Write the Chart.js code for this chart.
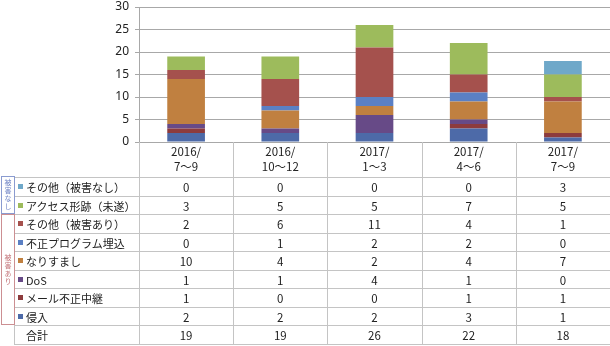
<!DOCTYPE html>
<html>
<head>
<meta charset="utf-8">
<script src="https://cdn.jsdelivr.net/npm/chart.js@4/dist/chart.umd.min.js"></script>
<style>
  body { margin: 0; background: #fff; }
  #wrap { position: relative; width: 610px; height: 346px; font-family: 'Noto Sans CJK JP', 'Noto Sans', sans-serif; color: #222; }
  #chart { position: absolute; left: 0; top: 0; }
  .ln { position: absolute; background: #c4c4c4; }
  .txt { position: absolute; font-size: 11.5px; line-height: 18px; white-space: nowrap; }
  .lbl { font-size: 11px; }
  .num { text-align: center; }
  .mark { position: absolute; width: 5px; height: 5px; }
  .grp { position: absolute; box-sizing: border-box; border: 1px solid; display: flex; align-items: center; justify-content: center; }
  .grp span { writing-mode: vertical-rl; font-size: 7px; letter-spacing: 1px; }
</style>
</head>
<body>
<div id="wrap">
  <canvas id="chart" width="610" height="346"></canvas>
  <div id="tbl"></div>
</div>
<script>
// Periods (two-line column headers)
const periods = [['2016/', '7～9'], ['2016/', '10～12'], ['2017/', '1～3'], ['2017/', '4～6'], ['2017/', '7～9']];

// Series values (incidents per quarter)
const intrusion = [2, 2, 2, 3, 1];       // 侵入
const mailRelay = [1, 0, 0, 1, 1];       // メール不正中継
const dos = [1, 1, 4, 1, 0];             // DoS
const spoofing = [10, 4, 2, 4, 7];       // なりすまし
const malware = [0, 1, 2, 2, 0];         // 不正プログラム埋込
const otherDamage = [2, 6, 11, 4, 1];    // その他（被害あり）
const accessTrace = [3, 5, 5, 7, 5];     // アクセス形跡（未遂）
const otherNoDamage = [0, 0, 0, 0, 3];   // その他（被害なし）
const totals = [19, 19, 26, 22, 18];     // 合計

const yTicks = [0, 5, 10, 15, 20, 25, 30];

// bottom of the stack first
const series = [
    { label: '侵入', data: intrusion, color: '#4d6aa8' },
    { label: 'メール不正中継', data: mailRelay, color: '#8d3b3d' },
    { label: 'DoS', data: dos, color: '#674a87' },
    { label: 'なりすまし', data: spoofing, color: '#c08040' },
    { label: '不正プログラム埋込', data: malware, color: '#5b80c4' },
    { label: 'その他（被害あり）', data: otherDamage, color: '#a5514d' },
    { label: 'アクセス形跡（未遂）', data: accessTrace, color: '#9dbb5c' },
    { label: 'その他（被害なし）', data: otherNoDamage, color: '#6fa8c9' }
];

const ctx = document.getElementById('chart').getContext('2d');
const chart = new Chart(ctx, {
    type: 'bar',
    data: {
        labels: periods.map(p => p.join('')),
        datasets: series.map(s => ({
            label: s.label,
            data: s.data,
            backgroundColor: s.color,
            borderWidth: 0,
            barPercentage: 0.4,
            categoryPercentage: 1
        }))
    },
    options: {
        responsive: false,
        animation: false,
        layout: { padding: { top: 0, right: 0, left: 0, bottom: 346 - 142 } },
        plugins: { legend: { display: false }, tooltip: { enabled: false } },
        scales: {
            x: {
                stacked: true,
                ticks: { display: false },
                grid: { display: false, drawTicks: false },
                border: { display: true, color: '#a8a8a8' },
                afterFit: s => { s.height = 0; }
            },
            y: {
                stacked: true,
                min: 0,
                max: 30,
                afterBuildTicks: s => { s.ticks = yTicks.map(v => ({ value: v })); },
                ticks: { color: '#222', font: { size: 12, family: "'Noto Sans', sans-serif" }, padding: 6 },
                grid: { color: '#a8a8a8', tickLength: 4 },
                border: { color: '#a8a8a8' },
                afterFit: s => { s.width = 139; s.paddingTop = 7; s.paddingBottom = 0; }
            }
        }
    }
});

// Data table under the plot, aligned to the x scale
const tbl = document.getElementById('tbl');
const ca = chart.chartArea;
const colW = (ca.right - ca.left) / periods.length;
const tableTop = ca.bottom;
const headTop = tableTop + 35;
const rowH = 18.5;

function el(cls, css, html) {
    const d = document.createElement('div');
    d.className = cls;
    Object.assign(d.style, css);
    if (html !== undefined) d.innerHTML = html;
    tbl.appendChild(d);
    return d;
}

const tableRows = [
    { label: 'その他（被害なし）', data: otherNoDamage, color: '#6fa8c9' },
    { label: 'アクセス形跡（未遂）', data: accessTrace, color: '#9dbb5c' },
    { label: 'その他（被害あり）', data: otherDamage, color: '#a5514d' },
    { label: '不正プログラム埋込', data: malware, color: '#5b80c4' },
    { label: 'なりすまし', data: spoofing, color: '#c08040' },
    { label: 'DoS', data: dos, color: '#674a87' },
    { label: 'メール不正中継', data: mailRelay, color: '#8d3b3d' },
    { label: '侵入', data: intrusion, color: '#4d6aa8' },
    { label: '合計', data: totals, color: null }
];
const tableBottom = headTop + rowH * tableRows.length;

// grid lines
for (let i = 0; i < periods.length; i++) {
    el('ln', { left: (ca.left + i * colW) + 'px', top: tableTop + 'px', width: '1px', height: (tableBottom - tableTop) + 'px' });
}
el('ln', { left: '14px', top: headTop + 'px', width: '1px', height: (tableBottom - headTop) + 'px' });
for (let k = 0; k <= tableRows.length; k++) {
    el('ln', { left: '14px', top: (headTop + k * rowH) + 'px', width: (610 - 14) + 'px', height: '1px' });
}

// header
periods.forEach((p, i) => {
    el('txt num', { left: (ca.left + i * colW) + 'px', top: (tableTop + 2) + 'px', width: colW + 'px', lineHeight: '15px' }, p[0] + '<br>' + p[1]);
});

// rows
tableRows.forEach((r, k) => {
    const y = headTop + k * rowH;
    if (r.color) el('mark', { left: '18px', top: (y + 7) + 'px', background: r.color });
    el('txt lbl', { left: '26px', top: (y + 1) + 'px' }, r.label);
    r.data.forEach((v, i) => {
        el('txt num', { left: (ca.left + i * colW) + 'px', top: (y + 1) + 'px', width: colW + 'px' }, v);
    });
});

// group boxes
el('grp', { left: '1px', top: (headTop - 1) + 'px', width: '14px', height: (rowH * 2 + 1) + 'px', borderColor: '#8a9bd0', color: '#6d82c4' }, '<span>被害なし</span>');
el('grp', { left: '1px', top: (headTop + rowH * 2) + 'px', width: '14px', height: (rowH * 6) + 'px', borderColor: '#cc8f92', color: '#c37378' }, '<span>被害あり</span>');
</script>
</body>
</html>
